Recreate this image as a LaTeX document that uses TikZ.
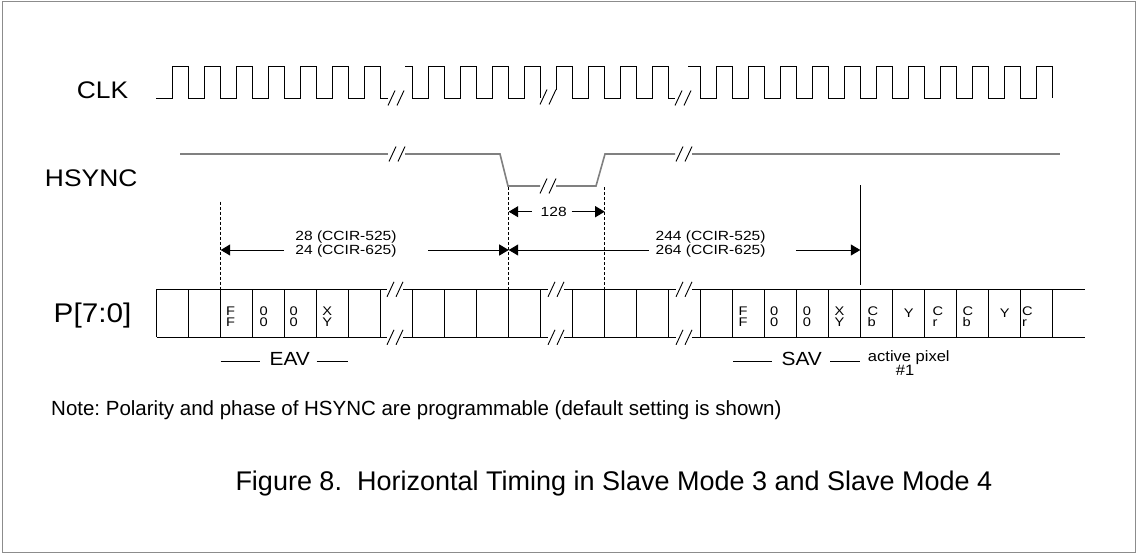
\documentclass[tikz,border=0pt]{standalone}
\usepackage{fontspec}
\setmainfont{Liberation Sans}
\newfontfamily\lblfont[FakeStretch=1.1]{Liberation Sans}
\newfontfamily\smlfont[FakeStretch=1.17]{Liberation Sans}
\usetikzlibrary{arrows.meta}
\newcommand{\brkmark}[2]{\draw[brkline] (#1,#2+7.5) -- ++(7,-15) (#1+9,#2+7.5) -- ++(7,-15);}
\frenchspacing
\begin{document}
\begin{tikzpicture}[x=1pt,y=-1pt,
  clkline/.style={line width=1pt, black, line join=miter},
  hsline/.style={line width=1.6pt, black!50},
  brkline/.style={line width=0.9pt, black},
  busline/.style={line width=1pt, black},
  dimline/.style={line width=1pt, black},
  tipend/.style={-{Triangle[length=9.5pt,width=11pt]}},
  guide/.style={line width=0.8pt, black, dash pattern=on 3pt off 2pt},
  sig/.style={font={\lblfont\fontsize{24}{24}\selectfont}, inner sep=0pt, anchor=base},
  dimtxt/.style={font={\smlfont\fontsize{13.3}{11}\selectfont}, inner sep=0pt, anchor=base},
  dimtwo/.style={font={\smlfont\fontsize{13.3}{11}\selectfont}, inner sep=0pt, anchor=north, align=center},
  celltxt/.style={font={\smlfont\fontsize{12.5}{11.6}\selectfont}, inner sep=0pt, anchor=north west, align=left},
  cellone/.style={font={\smlfont\fontsize{12.5}{11.6}\selectfont}, inner sep=0pt, anchor=center},
  grp/.style={font={\lblfont\fontsize{19}{19}\selectfont}, inner sep=0pt, anchor=base},
  aptxt/.style={font={\lblfont\fontsize{15}{15}\selectfont}, inner sep=0pt, anchor=base}
]
\useasboundingbox (0,0) rectangle (1138,554);
% border
\draw[black!45, line width=1.2pt] (2.5,1.5) rectangle (1135.5,552.5);

% signal names
\node[sig] (clk) at (102.5,98.3) {CLK};
\node[sig] (hsync) at (91.2,186.7) {HSYNC};
\node[sig, font={\lblfont\fontsize{27}{27}\selectfont}] (pbus) at (92.5,322.5) {P[7:0]};

% CLK waveform
\draw[clkline] (156,98) \foreach \k in {0,...,6} { -- ({172+32*\k},98) -- ({172+32*\k},66) -- ({188+32*\k},66) -- ({188+32*\k},98) } -- (388,98);
\brkmark{388}{98}
\draw[clkline] (405,66) -- (412,66) -- (412,98) \foreach \k in {8,...,11} { -- ({172+32*\k},98) -- ({172+32*\k},66) -- ({188+32*\k},66) -- ({188+32*\k},98) };
\brkmark{540}{97}
\draw[clkline] (556,89.5) -- (556,66) -- (572,66) -- (572,98) \foreach \k in {13,...,15} { -- ({172+32*\k},98) -- ({172+32*\k},66) -- ({188+32*\k},66) -- ({188+32*\k},98) } -- (675,98);
\brkmark{675}{98}
\draw[clkline] (688,66) -- (700,66) -- (700,98) \foreach \k in {17,...,27} { -- ({172+32*\k},98) -- ({172+32*\k},66) -- ({188+32*\k},66) -- ({188+32*\k},98) };

% HSYNC waveform
\draw[hsline] (180,154) -- (388,154);
\brkmark{389}{154}
\draw[hsline] (405,154) -- (500,154) -- (508,186) -- (540,186);
\brkmark{540}{186}
\draw[hsline] (556,186) -- (596,186) -- (605,154) -- (675,154);
\brkmark{676}{154}
\draw[hsline] (692,154) -- (1060,154);

% bus
\foreach \y in {289.3,337.3} {
  \draw[busline] (156.7,\y) -- (387,\y);
  \draw[busline] (403,\y) -- (548,\y);
  \draw[busline] (564,\y) -- (676,\y);
  \draw[busline] (692,\y) -- (1085,\y);
  \brkmark{387}{\y}
  \brkmark{548}{\y}
  \brkmark{676}{\y}
}
\foreach \k in {0,...,28} { \draw[busline] ({156.7+32*\k},289.3) -- ({156.7+32*\k},337.3); }

% cell contents (EAV)
\node[celltxt] (e1) at (225.8,306.3) {F\\F};
\node[celltxt] (e2) at (259.3,306.3) {0\\0};
\node[celltxt] (e3) at (289.3,306.3) {0\\0};
\node[celltxt] (e4) at (322.2,306.3) {X\\Y};
% cell contents (SAV and active video)
\node[celltxt] (s1) at (738.4,306.3) {F\\F};
\node[celltxt] (s2) at (770.0,306.3) {0\\0};
\node[celltxt] (s3) at (802.6,306.3) {0\\0};
\node[celltxt] (s4) at (834.5,306.3) {X\\Y};
\node[celltxt] (s5) at (867.5,306.3) {C\\b};
\node[cellone] (s6) at (908.7,313.3) {Y};
\node[celltxt] (s7) at (932.5,306.3) {C\\r};
\node[celltxt] (s8) at (962.5,306.3) {C\\b};
\node[cellone] (s9) at (1004.7,313.3) {Y};
\node[celltxt] (s10) at (1022.0,306.3) {C\\r};

% guide lines
\coordinate (g1t) at (220.7,201.7); \coordinate (g1b) at (220.7,289.3);
\coordinate (g2t) at (508.7,187);   \coordinate (g2b) at (508.7,289.3);
\coordinate (g3t) at (604.7,187);   \coordinate (g3b) at (604.7,289.3);
\coordinate (g4t) at (860.5,185);   \coordinate (g4b) at (860.5,284.7);
\draw[guide] (g1t) -- (g1b);
\draw[guide] (g2t) -- (g2b);
\draw[guide] (g3t) -- (g3b);
\draw[dimline] (g4t) -- (g4b);

% 128 dimension
\coordinate (a128L) at (508.7,211.7); \coordinate (a128R) at (604.7,211.7);
\node[dimtxt] (t128) at (553.7,216.7) {128};
\draw[dimline,tipend] (531.7,211.7) -- (a128L);
\draw[dimline,tipend] (571.7,211.7) -- (a128R);

% 28/24 dimension
\coordinate (a28L) at (220.7,250); \coordinate (a28R) at (508.7,250);
\node[dimtwo] (t28) at (346,231.0) {28 (CCIR-525)\\24 (CCIR-625)};
\draw[dimline,tipend] (284,250) -- (a28L);
\draw[dimline,tipend] (428.3,250) -- (a28R);

% 244/264 dimension
\coordinate (a244R) at (860.3,250);
\node[dimtwo] (t244) at (710.6,231.0) {244 (CCIR-525)\\264 (CCIR-625)};
\draw[dimline,tipend] (648.8,250) -- (a28R);
\draw[dimline,tipend] (795.9,250) -- (a244R);

% EAV / SAV labels
\node[grp] (eav) at (289.7,365) {EAV};
\draw[dimline] (220.7,361) -- (260,361);
\draw[dimline] (316.7,361) -- (348.3,361);
\node[grp] (sav) at (801.7,365) {SAV};
\draw[dimline] (733.3,361) -- (771.7,361);
\draw[dimline] (830,361) -- (860,361);
\node[aptxt] (ap1) at (908.8,361.7) {active pixel};
\node[aptxt] (ap2) at (905,375) {\#1};

% note and caption
\node[anchor=base west, inner sep=0pt, font={\fontsize{20.5}{20.5}\selectfont}] (note) at (51,415) {Note: Polarity and phase of HSYNC are programmable (default setting is shown)};
\node[anchor=base west, inner sep=0pt, font={\fontsize{27}{27}\selectfont}] (caption) at (235.3,490) {Figure 8.\ \ Horizontal Timing in Slave Mode 3 and Slave Mode 4};
\end{tikzpicture}
\end{document}
